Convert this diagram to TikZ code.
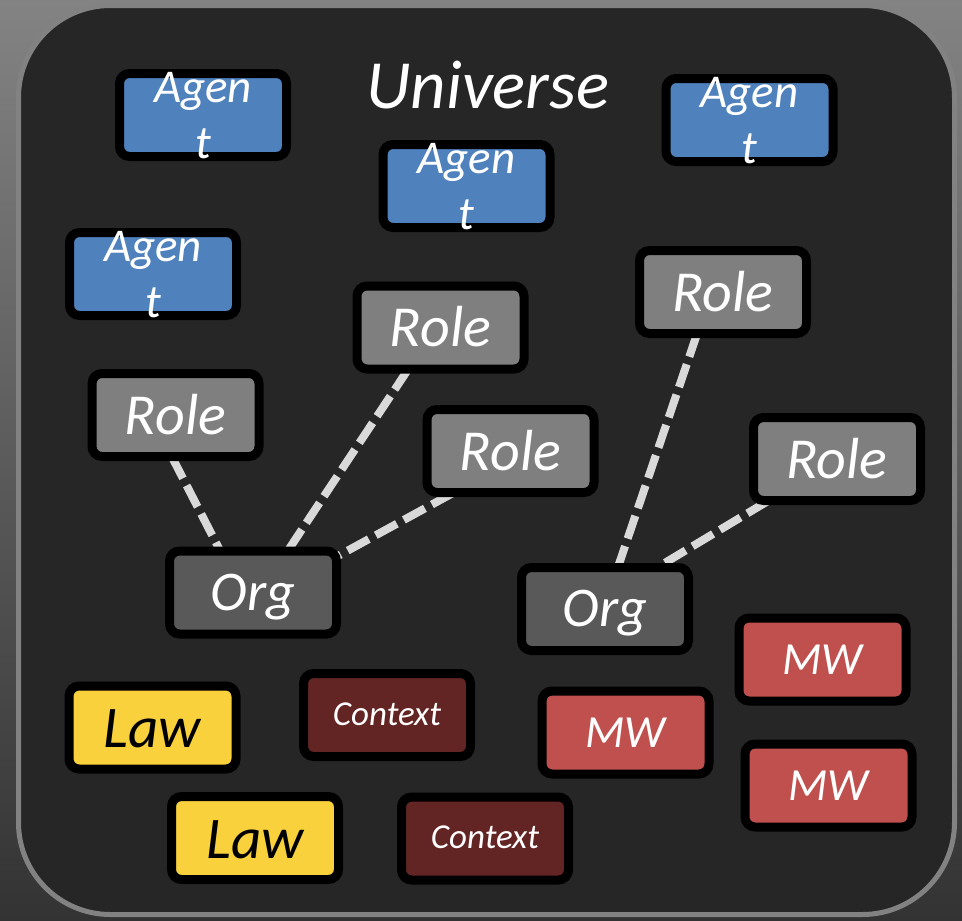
\documentclass[tikz,border=0pt]{standalone}
\usepackage{fontspec}
\setmainfont{Carlito}
\definecolor{agentc}{HTML}{4F81BD}
\definecolor{rolec}{HTML}{7F7F7F}
\definecolor{orgc}{HTML}{595959}
\definecolor{mwc}{HTML}{C0504D}
\definecolor{ctxc}{HTML}{632523}
\definecolor{lawc}{HTML}{F9D13C}
\definecolor{framefill}{HTML}{262626}
\definecolor{framec}{HTML}{828282}
\definecolor{linkc}{HTML}{D9D9D9}
\definecolor{bgtop}{HTML}{838383}
\definecolor{bgbot}{HTML}{333333}
\pgfdeclarelayer{bg}
\pgfdeclarelayer{conn}
\pgfsetlayers{bg,conn,main}
\newcommand\agenttext{\raisebox{-43pt}[0pt][0pt]{\begin{tabular}[b]{@{}c@{}}Agen\\t\end{tabular}}}
\tikzset{
  box/.style={draw=black, line width=9pt, rounded corners=10pt, minimum width=167pt,
    minimum height=83pt, inner sep=0pt, text=white},
  agentbox/.style={box, fill=agentc, font=\fontsize{47}{56}\selectfont\itshape},
  rolebox/.style={box, fill=rolec, font=\fontsize{58}{68}\selectfont\itshape, text height=38pt, text depth=0pt},
  orgbox/.style={box, fill=orgc, font=\fontsize{56}{66}\selectfont\itshape, text height=35pt, text depth=0pt},
  mwbox/.style={box, fill=mwc, font=\fontsize{46}{54}\selectfont\itshape, text height=29pt, text depth=0pt},
  ctxbox/.style={box, fill=ctxc, font=\fontsize{35}{42}\selectfont\itshape, text height=20pt, text depth=0pt},
  lawbox/.style={box, fill=lawc, text=black, font=\fontsize{59}{70}\selectfont\itshape, text height=40pt, text depth=0pt},
  link/.style={draw=linkc, line width=8pt, dash pattern=on 24pt off 8pt},
  titletext/.style={text=white, font=\fontsize{69}{82}\selectfont\itshape, inner sep=0pt, anchor=base}
}
\begin{document}
\begin{tikzpicture}[x=1pt,y=-1pt]
\useasboundingbox (0,0) rectangle (962,921);
\begin{pgfonlayer}{bg}
  \fill[top color=bgtop, bottom color=bgbot] (0,0) rectangle (962,921);
  \draw[draw=framec, line width=5pt, fill=framefill, rounded corners=92pt] (18.5,5.5) rectangle (954.5,914.5);
\end{pgfonlayer}

\node[titletext] (title) at (488,108) {Universe};

\node[agentbox] (a1) at (203,115) {\agenttext};
\node[agentbox] (a2) at (466.5,186) {\agenttext};
\node[agentbox] (a3) at (749.5,120) {\agenttext};
\node[agentbox] (a4) at (153,274) {\agenttext};

\node[rolebox] (r1) at (175.5,415) {Role};
\node[rolebox] (r2) at (440.5,327.5) {Role};
\node[rolebox] (r3) at (510.5,451) {Role};
\node[rolebox] (r4) at (723,292) {Role};
\node[rolebox] (r5) at (837,459) {Role};

\node[orgbox] (o1) at (253,592.5) {Org};
\node[orgbox] (o2) at (605,609) {Org};

\node[mwbox] (m1) at (822.5,659.5) {MW};
\node[mwbox] (m2) at (625.5,732.5) {MW};
\node[mwbox] (m3) at (828.5,785.5) {MW};

\node[ctxbox] (c1) at (387,715) {Context};
\node[ctxbox] (c2) at (485,838.5) {Context};

\node[lawbox] (l1) at (152.5,727.5) {Law};
\node[lawbox] (l2) at (255,838) {Law};

\begin{pgfonlayer}{conn}
  \draw[link] ([xshift=-3.5pt,yshift=4pt]r1.south) -- ([xshift=-33pt,yshift=-4pt]o1.north);
  \draw[link] ([xshift=-32.5pt,yshift=4pt]r2.south) -- ([xshift=35pt,yshift=-4pt]o1.north);
  \draw[link] ([xshift=-57.5pt,yshift=4pt]r3.south) -- ([xshift=-4pt,yshift=-10pt]o1.north east);
  \draw[link] ([xshift=-26pt,yshift=4pt]r4.south) -- ([xshift=13pt,yshift=-4pt]o2.north);
  \draw[link] ([xshift=-69pt,yshift=4pt]r5.south) -- ([xshift=53pt,yshift=-4pt]o2.north);
\end{pgfonlayer}
\end{tikzpicture}
\end{document}
